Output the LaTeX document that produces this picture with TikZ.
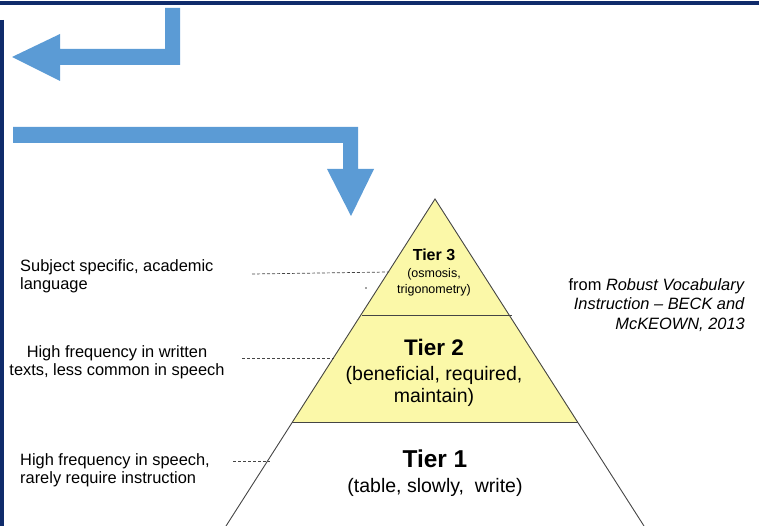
\documentclass[tikz,border=0pt]{standalone}
\usepackage{fontspec}
\setmainfont{Liberation Sans}
\usepackage{tikz}
\usetikzlibrary{positioning,calc}
\definecolor{framenavy}{HTML}{0F2B6B}
\definecolor{arrowblue}{HTML}{5B9BD5}
\definecolor{tieryellow}{HTML}{FBF8A8}
\definecolor{edgegray}{HTML}{454545}

\begin{document}
\begin{tikzpicture}[x=1pt, y=-1pt,
                    frame/.style = {framenavy, line width=4pt},
                    bigarrow/.style = {fill=arrowblue, draw=none},
                    tierline/.style = {edgegray, line width=0.9pt},
                    guide/.style = {edgegray, line width=0.7pt, dash pattern=on 3pt off 2pt},
                    label/.style = {inner sep=0pt, font=\fontsize{16.4}{18}\selectfont},
                    tiertitle/.style = {inner sep=0pt, anchor=base, font=\bfseries\fontsize{#1}{#1}\selectfont},
                    tiersub/.style = {inner sep=0pt, anchor=base, align=center, font=\fontsize{19.5}{22}\selectfont}
                ]

                \useasboundingbox (0,0) rectangle (759,526);

                \draw[frame] (0,3) -- (759,3);
                \draw[frame] (2,20) -- (2,526);

                \fill[bigarrow] (180,8) -- (180,65) -- (60,65) -- (60,81) -- (12,57)
                    -- (60,34) -- (60,49) -- (165,49) -- (165,8) -- cycle;
                \fill[bigarrow] (13,127) -- (358,127) -- (358,169) -- (374,169) -- (351,216)
                    -- (327,169) -- (343,169) -- (343,143) -- (13,143) -- cycle;

                \coordinate (apex) at (435,199);
                \coordinate (bl) at (226,526);
                \coordinate (br) at (644,526);
                \coordinate (t2l) at (292,422);
                \coordinate (t2r) at (578,422);
                \coordinate (t3l) at (362,315);
                \coordinate (t3r) at (512,315);

                \fill[tieryellow] (apex) -- (t2l) -- (t2r) -- cycle;
                \draw[tierline] (bl) -- (apex) -- (br);
                \draw[tierline] (t3l) -- (t3r);
                \draw[tierline] (t2l) -- (t2r);

                % base of a node with several lines = baseline of its last line
                \node[tiertitle=16] (tier3) at (434,261) {Tier 3};
                \node[tiersub, font=\fontsize{12.5}{16}\selectfont] (tier3ex) at (434,293) {(osmosis,\\trigonometry)};
                \node[tiertitle=22.5] (tier2) at (434,355) {Tier 2};
                \node[tiersub] (tier2ex) at (434,402) {(beneficial, required,\\maintain)};
                \node[tiertitle=24.4] (tier1) at (435,467) {Tier 1};
                \node[tiersub] (tier1ex) at (435,492) {(table, slowly,\ \ write)};

                \node[label, anchor=base west, align=left] (academic) at (20,289) {Subject specific, academic\\language};
                \node[label, anchor=base, align=center] (written) at (117,375) {High frequency in written\\texts, less common in speech};
                \node[label, anchor=base west, align=left] (speech) at (20,483) {High frequency in speech,\\rarely require instruction};

                \coordinate (g3a) at (252,274);
                \coordinate (g3b) at (389,272);
                \coordinate (g2a) at (242,358);
                \coordinate (g2b) at (334,358);
                \coordinate (g1a) at (233,461);
                \coordinate (g1b) at (270,461);
                \draw[guide] (g3a) -- (g3b);
                \draw[guide] (g2a) -- (g2b);
                \draw[guide] (g1a) -- (g1b);
                \fill[edgegray] (366,288) circle (0.8pt);

                \node[label, anchor=base east, align=right, font=\fontsize{16.4}{19.5}\selectfont] (source) at (745,329)
                    {from \textit{Robust Vocabulary}\\\textit{Instruction – BECK and}\\\textit{McKEOWN, 2013}};

            \end{tikzpicture}
\end{document}
